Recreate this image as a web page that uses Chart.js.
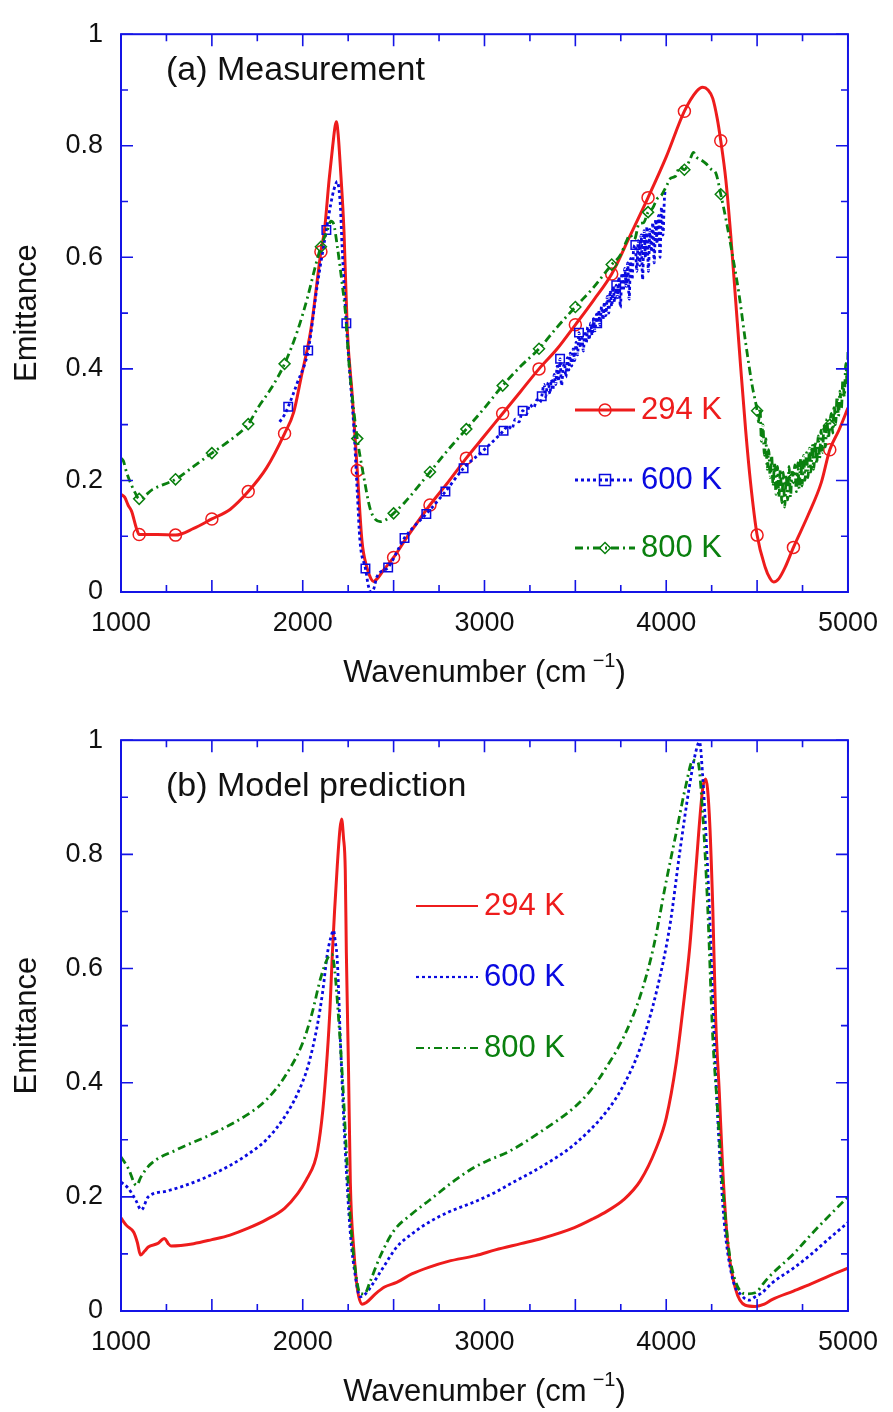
<!DOCTYPE html>
<html>
<head>
<meta charset="utf-8">
<title>Emittance spectra</title>
<script src="https://cdn.jsdelivr.net/npm/chart.js@4.4.0/dist/chart.umd.min.js"></script>
<style>
  html, body { margin: 0; padding: 0; background: #fff; }
  #wrap { position: relative; width: 893px; height: 1412px; }
  canvas { position: absolute; left: 0; }
</style>
</head>
<body>
<div id="wrap">
  <canvas id="chartA" width="893" height="706" style="top:0"></canvas>
  <canvas id="chartB" width="893" height="706" style="top:706px"></canvas>
</div>
<script>
// ---------- axes ----------
const xTickVals = [1000, 2000, 3000, 4000, 5000];
const yTickVals = [0, 0.2, 0.4, 0.6, 0.8, 1];
const seriesLabels = ["294 K", "600 K", "800 K"];

// ---------- (a) measurement ----------
const wnA294 = [1000, 1020, 1040, 1058, 1085, 1100, 1150, 1200, 1300, 1400, 1500, 1600, 1700, 1800, 1900, 1950, 1990, 2045, 2100, 2120, 2145, 2165, 2178, 2185, 2195, 2207, 2227, 2245, 2272, 2300, 2326, 2353, 2375, 2390, 2410, 2444, 2500, 2571, 2700, 2800, 2900, 3000, 3100, 3200, 3300, 3400, 3500, 3600, 3700, 3800, 3900, 4000, 4100, 4165, 4201, 4230, 4256, 4280, 4300, 4328, 4355, 4382, 4409, 4437, 4464, 4500, 4545, 4570, 4591, 4620, 4654, 4700, 4781, 4853, 4900, 4950, 5000];
const emA294 = [0.175, 0.17, 0.155, 0.145, 0.114, 0.103, 0.103, 0.103, 0.102, 0.114, 0.131, 0.148, 0.18, 0.222, 0.284, 0.322, 0.383, 0.471, 0.61, 0.65, 0.739, 0.8, 0.835, 0.843, 0.82, 0.762, 0.646, 0.471, 0.354, 0.218, 0.091, 0.044, 0.024, 0.019, 0.024, 0.039, 0.062, 0.097, 0.156, 0.197, 0.24, 0.28, 0.32, 0.36, 0.4, 0.436, 0.479, 0.523, 0.57, 0.638, 0.707, 0.78, 0.862, 0.897, 0.905, 0.9, 0.885, 0.85, 0.809, 0.739, 0.64, 0.523, 0.406, 0.29, 0.196, 0.102, 0.044, 0.025, 0.018, 0.024, 0.044, 0.08, 0.138, 0.196, 0.255, 0.29, 0.33];
const markA294 = [1100, 1300, 1500, 1700, 1900, 2100, 2300, 2500, 2700, 2900, 3100, 3300, 3500, 3700, 3900, 4100, 4300, 4500, 4700, 4900];

const wnA600 = [1873, 1900, 1920, 1970, 2030, 2080, 2130, 2163, 2180, 2190, 2200, 2207, 2217, 2240, 2261, 2281, 2300, 2315, 2345, 2362, 2375, 2390, 2408, 2470, 2560, 2620, 2680, 2785, 2885, 2995, 3105, 3130, 3150, 3170, 3190, 3210, 3230, 3250, 3270, 3290, 3305, 3315,
  3328, 3336, 3344, 3352, 3360, 3368, 3376, 3384, 3392, 3400, 3408, 3416, 3424, 3432, 3440, 3448, 3456, 3464, 3472, 3480, 3488, 3496, 3504, 3512, 3520, 3528, 3536, 3544, 3552, 3560, 3568, 3576, 3584, 3592, 3600, 3608, 3616, 3620, 3628, 3636, 3644, 3652, 3660, 3668, 3676, 3684, 3692, 3700, 3708, 3716, 3725, 3732, 3740, 3748, 3756, 3764, 3772, 3780, 3788, 3796, 3804, 3812, 3820, 3830, 3838, 3846, 3854, 3862, 3870, 3878, 3886, 3894, 3902, 3910, 3918, 3926, 3934, 3942, 3950, 3958, 3966, 3974, 3982, 3990, 3994];
const emA600 = [0.305, 0.318, 0.332, 0.375, 0.433, 0.55, 0.649, 0.71, 0.73, 0.736, 0.72, 0.692, 0.616, 0.482, 0.383, 0.296, 0.179, 0.091, 0.042, 0.01, 0.0, 0.005, 0.027, 0.044, 0.097, 0.12, 0.14, 0.18, 0.222, 0.254, 0.289, 0.298, 0.292, 0.31, 0.305, 0.325, 0.318, 0.336, 0.33, 0.345, 0.34, 0.351,
  0.372, 0.35, 0.366, 0.376, 0.355, 0.381, 0.362, 0.39, 0.372, 0.405, 0.378, 0.418, 0.37, 0.398, 0.41, 0.385, 0.42, 0.398, 0.428, 0.405, 0.436, 0.415, 0.448, 0.425, 0.465, 0.438, 0.455, 0.432, 0.468, 0.446, 0.475, 0.452, 0.482, 0.46, 0.49, 0.468, 0.498, 0.482, 0.505, 0.478, 0.512, 0.488, 0.52, 0.495, 0.53, 0.5, 0.54, 0.512, 0.548, 0.52, 0.55, 0.528, 0.565, 0.51, 0.572, 0.54, 0.58, 0.548, 0.59, 0.525, 0.598, 0.56, 0.612, 0.622, 0.575, 0.63, 0.585, 0.64, 0.56, 0.648, 0.6, 0.655, 0.575, 0.65, 0.61, 0.662, 0.59, 0.668, 0.625, 0.675, 0.6, 0.69, 0.64, 0.705, 0.72];
const markA600 = [1920, 2030, 2130, 2240, 2345, 2470, 2560, 2680, 2785, 2885, 2995, 3105, 3210, 3315, 3416, 3520, 3620, 3725, 3830];

const wnA800 = [1000, 1013, 1031, 1060, 1076, 1100, 1174, 1300, 1411, 1500, 1592, 1700, 1755, 1828, 1900, 1973, 2027, 2072, 2100, 2136, 2155, 2170, 2190, 2217, 2235, 2254, 2281, 2300, 2335, 2371, 2400, 2426, 2460, 2500, 2562, 2700, 2800, 2900, 3000, 3100, 3200, 3300, 3400, 3500, 3600, 3700, 3750, 3780, 3800, 3825, 3850, 3875, 3900, 3925, 3950, 3975, 4000, 4025, 4050, 4075, 4100, 4130, 4150, 4165, 4190, 4219, 4250, 4273, 4300, 4328, 4364, 4400, 4437, 4473, 4500,
  4508, 4516, 4524, 4532, 4540, 4548, 4556, 4564, 4572, 4580, 4588, 4596, 4604, 4612, 4620, 4628, 4636, 4644, 4652, 4660, 4668, 4676, 4684, 4692, 4700, 4708, 4716, 4724, 4732, 4740, 4748, 4756, 4764, 4772, 4780, 4788, 4796, 4804, 4812, 4820, 4828, 4836, 4844, 4852, 4860, 4868, 4876, 4884, 4892, 4900, 4908, 4916, 4924, 4932, 4940, 4948, 4956, 4964, 4972, 4980, 4988, 4996, 5000];
const emA800 = [0.24, 0.235, 0.214, 0.19, 0.179, 0.167, 0.184, 0.202, 0.228, 0.249, 0.27, 0.301, 0.331, 0.366, 0.409, 0.47, 0.529, 0.587, 0.619, 0.649, 0.665, 0.66, 0.62, 0.552, 0.5, 0.412, 0.325, 0.275, 0.208, 0.149, 0.13, 0.126, 0.13, 0.141, 0.161, 0.215, 0.255, 0.292, 0.33, 0.37, 0.405, 0.436, 0.475, 0.511, 0.546, 0.587, 0.605, 0.628, 0.64, 0.632, 0.66, 0.662, 0.681, 0.688, 0.705, 0.712, 0.727, 0.742, 0.745, 0.762, 0.757, 0.775, 0.788, 0.78, 0.775, 0.768, 0.757, 0.751, 0.713, 0.669, 0.605, 0.535, 0.447, 0.37, 0.325,
  0.305, 0.33, 0.27, 0.3, 0.245, 0.275, 0.22, 0.255, 0.205, 0.245, 0.19, 0.232, 0.175, 0.225, 0.17, 0.22, 0.16, 0.215, 0.152, 0.21, 0.165, 0.225, 0.17, 0.215, 0.205, 0.228, 0.18, 0.232, 0.185, 0.24, 0.19, 0.245, 0.2, 0.25, 0.205, 0.258, 0.215, 0.265, 0.22, 0.27, 0.23, 0.28, 0.24, 0.29, 0.25, 0.3, 0.26, 0.31, 0.275, 0.3, 0.32, 0.285, 0.335, 0.3, 0.35, 0.315, 0.36, 0.33, 0.38, 0.35, 0.41, 0.37, 0.43];
const markA800 = [1100, 1300, 1500, 1700, 1900, 2100, 2300, 2500, 2700, 2900, 3100, 3300, 3500, 3700, 3900, 4100, 4300, 4500, 4700, 4900];

// ---------- (b) model prediction ----------
const wnB294 = [1000, 1030, 1070, 1090, 1107, 1130, 1150, 1200, 1240, 1260, 1275, 1400, 1500, 1600, 1700, 1800, 1900, 1973, 2020, 2064, 2082, 2110, 2135, 2150, 2163, 2175, 2190, 2205, 2214, 2224, 2234, 2240, 2252, 2262, 2281, 2300, 2326, 2350, 2400, 2450, 2517, 2600, 2697, 2800, 2951, 3060, 3200, 3314, 3495, 3600, 3675, 3766, 3857, 3946, 4000, 4055, 4093, 4129, 4163, 4201, 4217, 4237, 4256, 4272, 4292, 4310, 4337, 4381, 4435, 4490, 4540, 4582, 4700, 4800, 4900, 5000];
const emB294 = [0.163, 0.15, 0.138, 0.12, 0.098, 0.105, 0.112, 0.118, 0.127, 0.118, 0.114, 0.118, 0.125, 0.133, 0.145, 0.16, 0.18, 0.206, 0.23, 0.259, 0.282, 0.35, 0.45, 0.53, 0.627, 0.7, 0.78, 0.845, 0.862, 0.83, 0.772, 0.627, 0.42, 0.224, 0.107, 0.04, 0.012, 0.015, 0.03, 0.042, 0.05, 0.065, 0.077, 0.087, 0.097, 0.107, 0.118, 0.127, 0.146, 0.162, 0.175, 0.195, 0.228, 0.286, 0.338, 0.435, 0.532, 0.636, 0.773, 0.916, 0.932, 0.87, 0.708, 0.513, 0.383, 0.254, 0.123, 0.039, 0.01, 0.008, 0.012, 0.02, 0.035, 0.048, 0.062, 0.075];

const wnB600 = [1000, 1040, 1080, 1112, 1150, 1250, 1429, 1600, 1718, 1800, 1900, 1970, 2030, 2080, 2110, 2136, 2155, 2169, 2180, 2190, 2210, 2234, 2262, 2290, 2316, 2345, 2380, 2444, 2517, 2600, 2697, 2800, 2951, 3060, 3132, 3314, 3495, 3675, 3766, 3857, 3946, 4020, 4075, 4129, 4163, 4183, 4201, 4218, 4237, 4256, 4272, 4292, 4319, 4364, 4419, 4455, 4490, 4527, 4582, 4700, 4800, 4900, 5000];
const emB600 = [0.226, 0.215, 0.195, 0.177, 0.2, 0.21, 0.229, 0.255, 0.279, 0.3, 0.34, 0.38, 0.43, 0.5, 0.56, 0.627, 0.655, 0.667, 0.645, 0.615, 0.45, 0.282, 0.136, 0.06, 0.025, 0.03, 0.045, 0.077, 0.112, 0.135, 0.156, 0.173, 0.192, 0.208, 0.221, 0.253, 0.292, 0.351, 0.396, 0.461, 0.559, 0.675, 0.805, 0.922, 0.98, 0.997, 0.935, 0.838, 0.708, 0.545, 0.416, 0.286, 0.156, 0.058, 0.026, 0.019, 0.025, 0.032, 0.049, 0.075, 0.1, 0.128, 0.155];

const wnB800 = [1000, 1040, 1085, 1110, 1158, 1303, 1500, 1700, 1800, 1900, 2000, 2050, 2100, 2140, 2160, 2175, 2200, 2220, 2240, 2262, 2290, 2316, 2340, 2370, 2425, 2500, 2600, 2697, 2850, 2951, 3022, 3132, 3314, 3495, 3585, 3675, 3766, 3857, 3929, 4000, 4055, 4109, 4147, 4174, 4201, 4228, 4256, 4283, 4310, 4346, 4381, 4435, 4490, 4544, 4582, 4700, 4800, 4900, 5000];
const emB800 = [0.27, 0.25, 0.22, 0.235, 0.256, 0.282, 0.31, 0.345, 0.37, 0.41, 0.47, 0.52, 0.585, 0.62, 0.625, 0.6, 0.5, 0.4, 0.28, 0.16, 0.07, 0.031, 0.03, 0.051, 0.095, 0.14, 0.17, 0.194, 0.232, 0.253, 0.264, 0.279, 0.315, 0.357, 0.387, 0.429, 0.48, 0.552, 0.636, 0.753, 0.838, 0.922, 0.965, 0.962, 0.87, 0.708, 0.48, 0.351, 0.221, 0.104, 0.052, 0.03, 0.032, 0.052, 0.065, 0.1, 0.135, 0.168, 0.2];

// ---------- styles ----------
const FONT = '"Liberation Sans", Arial, sans-serif';
const AXIS_BLUE = "#1414e6";
const RED = "#ee1c1c";
const BLUE = "#0a0ae0";
const GREEN = "#0a800f";
const DOT = [3, 3];
const DASH_DOT = [8, 4, 2, 4];

function pts(xs, ys) {
  return xs.map((x, i) => ({ x, y: ys[i] }));
}

function serie(xs, ys, color, dash, width, style, marks) {
  return {
    data: pts(xs, ys),
    showLine: true,
    borderColor: color,
    borderWidth: width,
    borderDash: dash,
    cubicInterpolationMode: "monotone",
    pointStyle: style || "circle",
    pointBorderColor: color,
    pointBackgroundColor: "rgba(255,255,255,0)",
    pointBorderWidth: 1.5,
    pointRadius: c => (marks && c.raw && marks.includes(c.raw.x) ? (style === "rectRot" ? 5.5 : 6) : 0),
    pointHoverRadius: 0,
  };
}

function marker(ctx, style, x, y) {
  ctx.beginPath();
  if (style === "rect") {
    ctx.rect(x - 5.5, y - 5.5, 11, 11);
  } else if (style === "rectRot") {
    ctx.moveTo(x, y - 5.5); ctx.lineTo(x + 5.5, y); ctx.lineTo(x, y + 5.5); ctx.lineTo(x - 5.5, y); ctx.closePath();
  } else {
    ctx.arc(x, y, 6, 0, Math.PI * 2);
  }
  ctx.stroke();
}

// frame with inward ticks on all four sides
const marco = {
  id: "marco",
  afterDraw(chart) {
    const { ctx, chartArea: a, scales } = chart;
    ctx.save();
    ctx.strokeStyle = AXIS_BLUE;
    ctx.lineWidth = 2;
    ctx.strokeRect(a.left, a.top, a.right - a.left, a.bottom - a.top);
    ctx.lineWidth = 1.6;
    ctx.beginPath();
    for (let v = 1000; v <= 5000; v += 250) {
      const x = scales.x.getPixelForValue(v);
      const len = v % 500 === 0 ? 12 : 7;
      ctx.moveTo(x, a.bottom); ctx.lineTo(x, a.bottom - len);
      ctx.moveTo(x, a.top); ctx.lineTo(x, a.top + len);
    }
    for (let i = 0; i <= 10; i++) {
      const y = scales.y.getPixelForValue(i / 10);
      const len = i % 2 === 0 ? 12 : 7;
      ctx.moveTo(a.left, y); ctx.lineTo(a.left + len, y);
      ctx.moveTo(a.right, y); ctx.lineTo(a.right - len, y);
    }
    ctx.stroke();
    ctx.restore();
  },
};

// panel label, legend and axis titles
const textos = {
  id: "textos",
  afterDraw(chart, args, o) {
    const { ctx, chartArea: a } = chart;
    ctx.save();
    ctx.textBaseline = "middle";
    ctx.fillStyle = "#111";
    ctx.font = "34px " + FONT;
    ctx.fillText(o.panel, 166, o.panelY);

    o.legend.forEach((it, i) => {
      const y = o.legendY[i];
      ctx.strokeStyle = it.color;
      ctx.lineWidth = o.legendWidth;
      ctx.setLineDash(it.dash);
      ctx.beginPath();
      ctx.moveTo(o.legendX0, y); ctx.lineTo(o.legendX1, y);
      ctx.stroke();
      ctx.setLineDash([]);
      if (o.withMarks) {
        ctx.lineWidth = 1.5;
        marker(ctx, it.style, (o.legendX0 + o.legendX1) / 2, y);
      }
      ctx.fillStyle = it.color;
      ctx.font = "31px " + FONT;
      ctx.fillText(seriesLabels[i], o.legendX1 + 6, y);
    });

    // x title with superscript
    ctx.fillStyle = "#111";
    const main = "Wavenumber (cm", sup = "\u22121";
    ctx.font = "31px " + FONT;
    const w1 = ctx.measureText(main).width, w3 = ctx.measureText(")").width;
    ctx.font = "20px " + FONT;
    const w2 = ctx.measureText(sup).width + 6;
    const x = (a.left + a.right) / 2 - (w1 + w2 + w3) / 2;
    ctx.font = "31px " + FONT;
    ctx.fillText(main, x, o.titleY);
    ctx.font = "20px " + FONT;
    ctx.fillText(sup, x + w1 + 6, o.titleY - 12);
    ctx.font = "31px " + FONT;
    ctx.fillText(")", x + w1 + w2, o.titleY);

    // y title
    ctx.translate(27, (a.top + a.bottom) / 2);
    ctx.rotate(-Math.PI / 2);
    ctx.textAlign = "center";
    ctx.fillText("Emittance", 0, 0);
    ctx.restore();
  },
};

function crearGrafico(id, datasets, padTop, axisH, textOpts) {
  return new Chart(document.getElementById(id), {
    type: "scatter",
    data: { datasets },
    options: {
      responsive: false,
      animation: false,
      devicePixelRatio: 1,
      layout: { padding: { top: padTop, right: 36, left: 0, bottom: 0 } },
      plugins: { legend: { display: false }, tooltip: { enabled: false }, textos: textOpts },
      scales: {
        x: {
          type: "linear", min: 1000, max: 5000,
          grid: { display: false, drawTicks: false },
          border: { display: false },
          afterBuildTicks: s => { s.ticks = xTickVals.map(v => ({ value: v })); },
          afterFit: s => { s.height = axisH; },
          ticks: { color: "#111", font: { family: FONT, size: 27 }, padding: 15, maxRotation: 0, callback: v => String(v) },
        },
        y: {
          min: 0, max: 1,
          grid: { display: false, drawTicks: false },
          border: { display: false },
          afterBuildTicks: s => { s.ticks = yTickVals.map(v => ({ value: v })); },
          afterFit: s => { s.width = 121; },
          ticks: { color: "#111", font: { family: FONT, size: 27 }, padding: 18,
                   callback: v => (v === 0 ? "0" : v === 1 ? "1" : v.toFixed(1)) },
        },
      },
    },
    plugins: [marco, textos],
  });
}

const leyenda = [
  { color: RED, dash: [], style: "circle" },
  { color: BLUE, dash: DOT, style: "rect" },
  { color: GREEN, dash: DASH_DOT, style: "rectRot" },
];

crearGrafico("chartA", [
  serie(wnA800, emA800, GREEN, DASH_DOT, 2.8, "rectRot", markA800),
  serie(wnA600, emA600, BLUE, DOT, 2.8, "rect", markA600),
  serie(wnA294, emA294, RED, [], 3, "circle", markA294),
], 21, 114, {
  panel: "(a) Measurement", panelY: 71, titleY: 673,
  legend: leyenda, legendY: [410, 480, 548], legendX0: 575, legendX1: 635, legendWidth: 2.8, withMarks: true,
});

crearGrafico("chartB", [
  serie(wnB800, emB800, GREEN, DASH_DOT, 2.8),
  serie(wnB600, emB600, BLUE, DOT, 2.8),
  serie(wnB294, emB294, RED, [], 3),
], 34, 101, {
  panel: "(b) Model prediction", panelY: 81, titleY: 686,
  legend: leyenda, legendY: [200, 271, 342], legendX0: 416, legendX1: 478, legendWidth: 2.2, withMarks: false,
});
</script>
</body>
</html>
